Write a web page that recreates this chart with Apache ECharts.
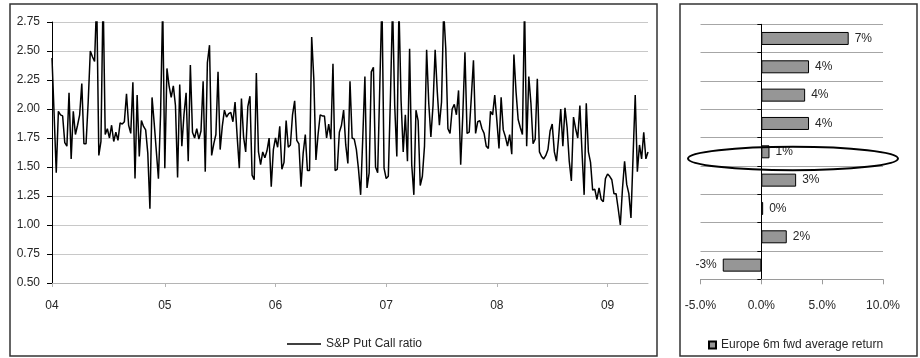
<!DOCTYPE html>
<html>
<head>
<meta charset="utf-8">
<script src="https://cdn.jsdelivr.net/npm/echarts@6/dist/echarts.min.js"></script>
<style>
  html, body { margin: 0; padding: 0; background: #fff; }
  #chart { width: 920px; height: 358px; }
</style>
</head>
<body>
<div id="chart"></div>
<script>
// Weekly S&P 500 put/call ratio, first week of 2004 onwards
const putCallStart = '2004-01-02';
const putCallRatio = [
  2.44, 1.95, 1.45, 1.98, 1.95, 1.94, 1.71, 1.68, 2.14, 1.57,
  1.98, 1.78, 1.86, 1.95, 2.22, 1.70, 1.70, 2.06, 2.50, 2.45,
  2.41, 2.95, 1.60, 1.72, 3.00, 1.78, 1.83, 1.75, 1.86, 1.72,
  1.80, 1.73, 1.88, 1.87, 1.89, 2.13, 1.86, 1.79, 2.23, 1.40,
  2.12, 1.59, 1.90, 1.85, 1.82, 1.62, 1.14, 2.10, 1.88, 1.64,
  1.40, 1.95, 2.90, 1.49, 2.35, 2.20, 2.10, 2.20, 2.03, 1.41,
  2.21, 1.68, 1.95, 2.14, 1.55, 2.38, 1.80,
  1.75, 1.83, 1.74, 1.81, 2.24, 1.46, 2.40, 2.55, 1.60, 1.70,
  1.78, 2.32, 1.65, 1.85, 1.99, 1.93, 1.96, 1.97, 1.89, 2.06,
  1.76, 1.49, 2.09, 1.76, 1.63, 2.02, 2.11, 1.43, 1.39, 2.31,
  1.63, 1.52, 1.63, 1.58, 1.64, 1.75, 1.33, 1.65, 1.75, 1.67,
  1.85, 1.48, 1.54, 1.90, 1.67, 1.69, 1.95, 2.07, 1.73, 1.70,
  1.33, 1.62, 1.78, 1.47, 1.47, 2.62, 2.26, 1.56, 1.78, 1.95,
  1.94, 1.94, 1.75, 1.87, 1.74, 2.39, 1.47, 1.48, 1.80,
  1.86, 1.99, 1.69, 1.53, 2.24, 1.75, 1.74, 1.65, 1.48, 1.26,
  1.75, 2.28, 1.32, 1.45, 2.32, 2.36, 1.50, 1.45, 2.20, 2.95,
  1.49, 1.40, 1.42, 2.10, 2.90, 2.03, 1.59, 2.88, 2.07, 1.63,
  1.95, 1.55, 2.52, 1.52, 1.26, 1.99, 1.90, 1.34, 1.42, 1.68,
  2.51, 2.05, 1.76, 2.03, 2.51, 2.15, 1.86, 2.06, 2.85, 2.52,
  1.83, 1.79, 2.00, 2.04, 1.95, 2.16, 1.52, 1.95, 2.49, 1.79,
  1.80, 2.10, 2.42, 1.79, 1.89, 1.90, 1.83, 1.79, 1.68, 1.66,
  1.98,
  1.95, 2.12, 1.90, 1.66, 2.10, 1.82, 1.76, 1.68, 1.78, 1.61,
  2.47, 2.15, 1.91, 1.84, 1.78, 2.90, 1.68, 2.28, 2.05, 1.70,
  1.74, 2.26, 1.63, 1.59, 1.57, 1.60, 1.65, 1.81, 1.87, 1.63,
  1.55, 1.75, 2.00, 1.68, 2.01, 1.84, 1.55, 1.38, 1.93, 1.83,
  1.75, 2.03, 1.63, 1.26, 2.05, 1.63, 1.54, 1.30, 1.31, 1.22,
  1.32, 1.22, 1.20, 1.40, 1.44, 1.42, 1.39, 1.27, 1.27, 1.14,
  1.00, 1.31, 1.55, 1.35, 1.27, 1.06, 1.60, 2.12, 1.46, 1.69,
  1.57, 1.80, 1.57, 1.63
];

// Put/call ratio buckets and the average 6m forward European return in each
const ratioBuckets = ['B1', 'B2', 'B3', 'B4', 'B5', 'B6', 'B7', 'B8', 'B9'];
const europeFwdReturn = [0.0718, 0.0392, 0.0360, 0.0392, 0.0067, 0.0286, 0.0015, 0.0209, -0.0317];

const lineName = 'S&P Put Call ratio';
const barName = 'Europe 6m fwd average return';

// weekly dates for the category axis
const weekDates = [];
{
  const d0 = new Date(putCallStart + 'T00:00:00Z');
  for (let i = 0; i < putCallRatio.length; i++) {
    const d = new Date(d0.getTime() + i * 7 * 86400000);
    weekDates.push(d.toISOString().slice(0, 10));
  }
}
const isYearStart = (idx) => idx === 0 || weekDates[idx].slice(0, 4) !== weekDates[idx - 1].slice(0, 4);

const FONT = "'Liberation Sans', Arial, sans-serif";
const TXT = '#262626';

const chart = echarts.init(document.getElementById('chart'), null, { renderer: 'canvas' });

chart.setOption({
  animation: false,
  textStyle: { fontFamily: FONT },
  grid: [
    { left: 52, top: 22, width: 596, height: 261 },
    { left: 700.5, top: 24.3, width: 182.5, height: 255 }
  ],
  xAxis: [
    {
      gridIndex: 0, type: 'category', data: weekDates, boundaryGap: false,
      axisLine: { lineStyle: { color: '#b4b4b4', width: 1 } },
      axisTick: { show: true, interval: isYearStart, length: 4, lineStyle: { color: '#b4b4b4' } },
      axisLabel: { interval: isYearStart, formatter: (v) => v.slice(2, 4), margin: 17,
                   color: TXT, fontSize: 12, fontFamily: FONT },
      splitLine: { show: false }
    },
    {
      gridIndex: 1, type: 'value', min: -0.05, max: 0.10, interval: 0.05,
      axisLine: { show: true, onZero: false, lineStyle: { color: '#9a9a9a' } },
      axisTick: { show: true, length: 5, lineStyle: { color: '#9a9a9a' } },
      axisLabel: { formatter: (v) => (v * 100).toFixed(1) + '%', margin: 20,
                   color: TXT, fontSize: 12, fontFamily: FONT },
      splitLine: { show: false }
    }
  ],
  yAxis: [
    {
      gridIndex: 0, type: 'value', min: 0.5, max: 2.75, interval: 0.25,
      axisLine: { show: true, lineStyle: { color: '#000', width: 1 } },
      axisTick: { show: true, length: 5, lineStyle: { color: '#000' } },
      axisLabel: { formatter: (v) => v.toFixed(2), margin: 12,
                   color: TXT, fontSize: 12, fontFamily: FONT },
      splitLine: { show: true, lineStyle: { color: '#c8c8c8', width: 1 } }
    },
    {
      gridIndex: 1, type: 'category', data: ratioBuckets, inverse: true,
      axisLine: { show: true, onZero: true, lineStyle: { color: '#000', width: 1 } },
      axisTick: { show: true, length: 4, lineStyle: { color: '#000' } },
      axisLabel: { show: false },
      splitLine: { show: true, lineStyle: { color: '#a6a6a6', width: 1 } }
    }
  ],
  legend: [
    {
      data: [lineName], left: 282, top: 333, icon: 'rect', itemWidth: 34, itemHeight: 1.5,
      itemGap: 0, textStyle: { color: TXT, fontSize: 12, fontFamily: FONT }
    },
    {
      data: [barName], left: 703, top: 334, icon: 'rect', itemWidth: 7, itemHeight: 7,
      itemGap: 0, textStyle: { color: TXT, fontSize: 12, fontFamily: FONT }
    }
  ],
  series: [
    {
      name: lineName, type: 'line', xAxisIndex: 0, yAxisIndex: 0,
      data: putCallRatio, symbol: 'none', showSymbol: false, clip: true,
      lineStyle: { color: '#000', width: 1.5 }, itemStyle: { color: '#000' }
    },
    {
      name: barName, type: 'bar', xAxisIndex: 1, yAxisIndex: 1,
      data: europeFwdReturn.map((v) => ({ value: v, label: { position: v < 0 ? 'left' : 'right' } })),
      barWidth: 13,
      itemStyle: { color: '#969696', borderColor: '#000', borderWidth: 1 },
      label: {
        show: true, distance: 6, color: TXT, fontSize: 12, fontFamily: FONT,
        formatter: (p) => Math.round(p.value * 100) + '%'
      }
    }
  ],
  graphic: [
    { type: 'rect', silent: true, z: 50, shape: { x: 10, y: 4, width: 647, height: 352 },
      style: { fill: 'none', stroke: '#333', lineWidth: 1.5 } },
    { type: 'rect', silent: true, z: 50, shape: { x: 680, y: 4, width: 237, height: 352 },
      style: { fill: 'none', stroke: '#333', lineWidth: 1.5 } },
    // highlight ring around the bucket holding the current reading
    { type: 'ellipse', silent: true, z: 100, shape: { cx: 793, cy: 158.5, rx: 105, ry: 11.8 },
      style: { fill: 'none', stroke: '#000', lineWidth: 2 } }
  ]
});
</script>
</body>
</html>
